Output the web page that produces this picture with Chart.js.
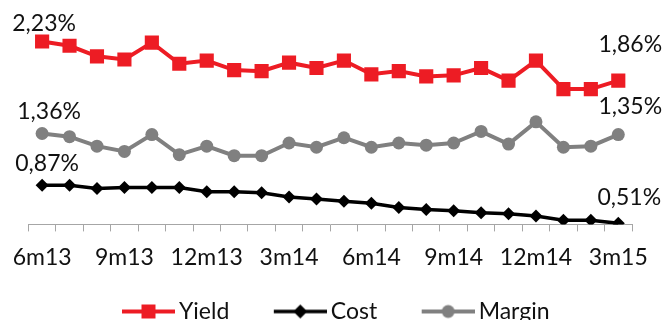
<!DOCTYPE html>
<html>
<head>
<meta charset="utf-8">
<script src="https://cdn.jsdelivr.net/npm/chart.js@4.4.1/dist/chart.umd.min.js"></script>
<style>
  html, body { margin: 0; padding: 0; background: #fff; overflow: hidden; }
  #wrap { position: relative; width: 667px; height: 333px; }
</style>
</head>
<body>
<div id="wrap"><canvas id="chart"></canvas></div>
<script>
// months 6m13 .. 3m15
const months = ['6m13','7m13','8m13','9m13','10m13','11m13','12m13',
  '1m14','2m14','3m14','4m14','5m14','6m14','7m14','8m14','9m14','10m14','11m14','12m14',
  '1m15','2m15','3m15'];

const yieldVals  = [2.23,2.19,2.09,2.06,2.22,2.02,2.05,1.96,1.95,2.03,1.98,2.05,1.92,1.95,1.90,1.91,1.98,1.86,2.05,1.78,1.78,1.86];
const costVals   = [0.87,0.87,0.84,0.85,0.85,0.85,0.81,0.81,0.80,0.76,0.74,0.72,0.70,0.66,0.64,0.63,0.61,0.60,0.58,0.54,0.54,0.51];
const marginVals = [1.36,1.33,1.24,1.19,1.35,1.16,1.24,1.15,1.15,1.27,1.23,1.32,1.23,1.27,1.25,1.27,1.38,1.26,1.47,1.23,1.24,1.35];

const RED = '#ED1C24', BLACK = '#000000', GREY = '#808080';
const FONT = 'Lato';
const BOX = 73; // legend symbol slot (blank on the left gives the item spacing)

// legend symbol: line with marker in the middle, sitting at the right of the slot
function legendIcon(color, lw, shape) {
  const c = document.createElement('canvas');
  c.width = BOX + 15; c.height = 18;
  const g = c.getContext('2d');
  const x0 = c.width - 53, mid = x0 + 26.5;
  g.strokeStyle = color; g.fillStyle = color; g.lineWidth = lw;
  g.beginPath(); g.moveTo(x0, 9); g.lineTo(c.width, 9); g.stroke();
  g.beginPath();
  if (shape === 'square') g.rect(mid - 7, 2, 14, 14);
  else if (shape === 'diamond') { g.moveTo(mid, 2); g.lineTo(mid + 7, 9); g.lineTo(mid, 16); g.lineTo(mid - 7, 9); g.closePath(); }
  else g.arc(mid, 9, 6.5, 0, Math.PI * 2);
  g.fill();
  return c;
}
const icons = [legendIcon(RED, 4, 'square'), legendIcon(BLACK, 3.5, 'diamond'), legendIcon(GREY, 4, 'circle')];

// end labels: [dataset, index, dx, dy]
const endLabels = [
  [0, 0, 2, -18], [0, 21, 12, -36],
  [2, 0, 7, -22], [2, 21, 12, -28],
  [1, 0, 5, -22], [1, 21, 11, -26]
];

const labelPlugin = {
  id: 'endLabels',
  afterLayout(chart) {
    // pull the legend left so the blank part of the first symbol doesn't push it off centre
    chart.legend.left -= 8;
    chart.legend.right -= 8;
  },
  afterDatasetsDraw(chart) {
    const ctx = chart.ctx;
    ctx.save();
    ctx.font = '23px ' + FONT;
    ctx.fillStyle = '#111';
    ctx.textAlign = 'center';
    ctx.textBaseline = 'middle';
    endLabels.forEach(([d, i, dx, dy]) => {
      const pt = chart.getDatasetMeta(d).data[i];
      const v = chart.data.datasets[d].data[i];
      ctx.fillText(v.toFixed(2).replace('.', ',') + '%', pt.x + dx, pt.y + dy);
    });
    ctx.restore();
  }
};

new Chart(document.getElementById('chart'), {
  type: 'line',
  data: {
    labels: months,
    datasets: [
      { label: 'Yield', data: yieldVals, borderColor: RED, backgroundColor: RED, borderWidth: 4,
        pointStyle: 'rect', pointRadius: 10, pointBorderWidth: 0 },
      { label: 'Cost', data: costVals, borderColor: BLACK, backgroundColor: BLACK, borderWidth: 3.5,
        pointStyle: 'rectRot', pointRadius: 6.5, pointBorderWidth: 0 },
      { label: 'Margin', data: marginVals, borderColor: GREY, backgroundColor: GREY, borderWidth: 4,
        pointStyle: 'circle', pointRadius: 6.5, pointBorderWidth: 0 }
    ]
  },
  options: {
    responsive: true,
    maintainAspectRatio: false,
    animation: false,
    layout: { padding: { left: 28, right: 35, top: 13, bottom: 0 } },
    plugins: {
      tooltip: { enabled: false },
      legend: {
        position: 'bottom',
        labels: {
          font: { family: FONT, size: 23 },
          color: '#111',
          usePointStyle: true,
          pointStyleWidth: BOX,
          padding: 17,
          generateLabels(chart) {
            return chart.data.datasets.map((ds, i) => ({
              text: ds.label, pointStyle: icons[i], datasetIndex: i,
              fillStyle: ds.borderColor, strokeStyle: ds.borderColor, lineWidth: 0, fontColor: '#111'
            }));
          }
        }
      }
    },
    scales: {
      x: {
        offset: true,
        grid: { offset: true, drawOnChartArea: false, color: '#A6A6A6', tickLength: 7 },
        border: { color: '#A6A6A6', width: 1 },
        ticks: {
          autoSkip: false, maxRotation: 0, padding: 12, color: '#111',
          font: { family: FONT, size: 23 },
          callback(val, idx) { return idx % 3 === 0 ? this.getLabelForValue(val) : ''; }
        }
      },
      y: { display: false, min: 0.5, max: 2.5 }
    }
  },
  plugins: [labelPlugin]
});
</script>
</body>
</html>
